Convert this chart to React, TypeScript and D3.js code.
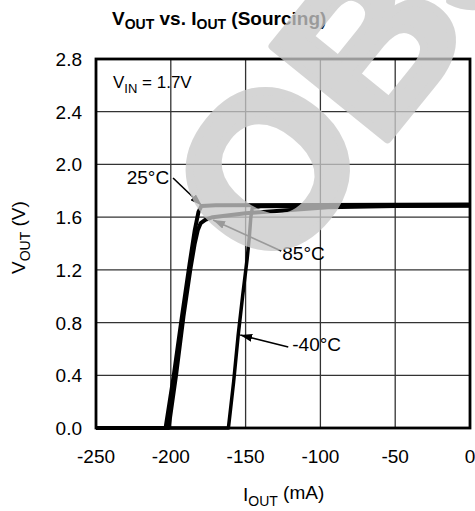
import React from "react";
import * as d3 from "d3";

// I_OUT (mA), V_OUT (V)
const curve25 = [
  [-250, 0], [-203.5, 0], [-198, 0.4], [-192.5, 0.85], [-187.5, 1.24],
  [-184, 1.5], [-181.5, 1.64], [-179.5, 1.685], [-170, 1.69], [-100, 1.692], [0, 1.695],
];
const curve85 = [
  [-250, 0], [-201.5, 0], [-196.5, 0.4], [-191.5, 0.85], [-187, 1.2],
  [-184, 1.4], [-182, 1.5], [-180, 1.555], [-177, 1.58], [-172, 1.6],
  [-150, 1.63], [-120, 1.655], [-95, 1.675], [-50, 1.685], [0, 1.69],
];
const curveM40 = [
  [-250, 0], [-161.5, 0], [-158, 0.35], [-155, 0.7], [-152, 1.0],
  [-149, 1.28], [-147.5, 1.45], [-146.5, 1.6], [-145.5, 1.67], [-140, 1.68],
  [-100, 1.682], [0, 1.685],
];

const xTicks = [-250, -200, -150, -100, -50, 0];
const yTicks = [0, 0.4, 0.8, 1.2, 1.6, 2.0, 2.4, 2.8];

const notes = [
  { label: "25°C", tx: -229.5, ty: 1.85, ax: -198.5, ay: 1.897, px: -179.3, py: 1.688 },
  { label: "85°C", tx: -125.5, ty: 1.275, ax: -126.2, ay: 1.343, px: -171.7, py: 1.578 },
  { label: "-40°C", tx: -118.8, ty: 0.584, ax: -121.5, ay: 0.615, px: -153.6, py: 0.706 },
];

const W = 475;
const H = 511;
const left = 96, right = 470, top = 59, bottom = 428;
const font = "'Liberation Sans', Arial, sans-serif";
const wmSize = 215;

export default function App() {
  const x = d3.scaleLinear().domain([-250, 0]).range([left, right]);
  const y = d3.scaleLinear().domain([0, 2.8]).range([bottom, top]);
  const line = d3.line<number[]>().x(d => x(d[0])).y(d => y(d[1]));

  return (
    <svg width={W} height={H} style={{ position: "absolute", left: 0, top: 0, background: "#fff" }}
      fontFamily={font}>
      <defs>
        <marker id="arr" viewBox="0 0 12 8" refX="12" refY="4" markerWidth="12" markerHeight="8"
          markerUnits="userSpaceOnUse" orient="auto">
          <path d="M0,0 L12,4 L0,8 z" fill="#000" />
        </marker>
      </defs>

      {/* grid */}
      {xTicks.map(t => (
        <line key={"gx" + t} x1={x(t)} x2={x(t)} y1={top} y2={bottom} stroke="#333" strokeWidth={1.3} />
      ))}
      {yTicks.map(t => (
        <line key={"gy" + t} x1={left} x2={right} y1={y(t)} y2={y(t)} stroke="#333" strokeWidth={1.3} />
      ))}

      {/* curves */}
      <path d={line(curveM40) || ""} fill="none" stroke="#000" strokeWidth={3.5} strokeLinejoin="round" />
      <path d={line(curve85) || ""} fill="none" stroke="#000" strokeWidth={4} strokeLinejoin="round" />
      <path d={line(curve25) || ""} fill="none" stroke="#000" strokeWidth={4} strokeLinejoin="round" />

      <rect x={left} y={top} width={right - left} height={bottom - top} fill="none" stroke="#000" strokeWidth={2.8} />

      {/* tick labels */}
      {xTicks.map(t => (
        <text key={"tx" + t} x={x(t)} y={463} fontSize={19} textAnchor="middle">{t}</text>
      ))}
      {yTicks.map(t => (
        <text key={"ty" + t} x={82} y={y(t) + 7} fontSize={19} textAnchor="end">{t.toFixed(1)}</text>
      ))}

      {/* annotations */}
      {notes.map(n => (
        <g key={n.label}>
          <line x1={x(n.ax)} y1={y(n.ay)} x2={x(n.px)} y2={y(n.py)} stroke="#000" strokeWidth={1.6}
            markerEnd="url(#arr)" />
          <text x={x(n.tx)} y={y(n.ty)} fontSize={19}>{n.label}</text>
        </g>
      ))}

      <text x={113} y={88} fontSize={17}>
        V<tspan dy={5} fontSize={13}>IN</tspan><tspan dy={-5}> = 1.7V</tspan>
      </text>

      {/* title */}
      <text x={112} y={25} fontSize={19} fontWeight="bold">
        V<tspan dy={4} fontSize={14}>OUT</tspan><tspan dy={-4}> vs. I</tspan>
        <tspan dy={4} fontSize={14}>OUT</tspan><tspan dy={-4}> (Sourcing)</tspan>
      </text>

      {/* axis titles */}
      <text x={243} y={501} fontSize={19}>
        I<tspan dy={5} fontSize={14}>OUT</tspan><tspan dy={-7}> (mA)</tspan>
      </text>
      <text transform="translate(25,274) rotate(-90)" fontSize={19}>
        V<tspan dy={5} fontSize={14}>OUT</tspan><tspan dy={-5}> (V)</tspan>
      </text>

      {/* obsolete watermark */}
      <g transform="translate(266,167) rotate(-51)" opacity={0.77}>
        <text x={-0.389 * wmSize} y={0.358 * wmSize} fontSize={wmSize} fontWeight="bold"
          fill="#c9c9c9" stroke="#c9c9c9" strokeWidth={8} strokeLinejoin="round">
          OBSOLETE
        </text>
      </g>
    </svg>
  );
}
